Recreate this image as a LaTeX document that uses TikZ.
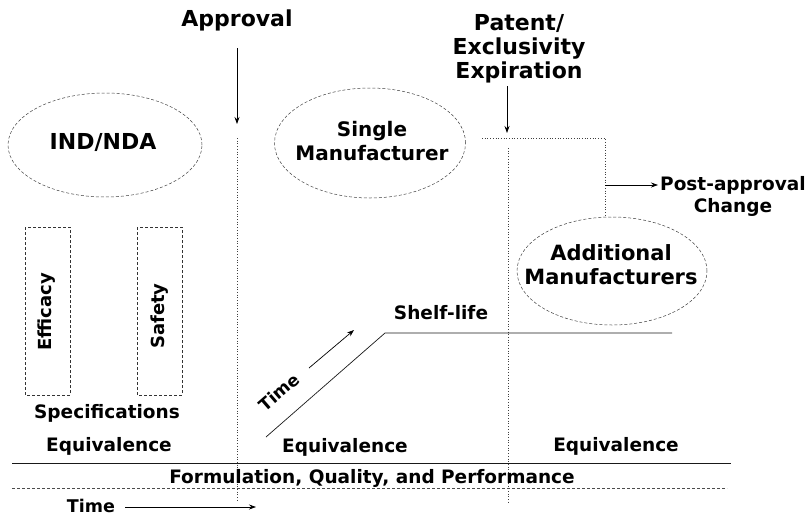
\documentclass[tikz,border=0pt]{standalone}
\usepackage{fontspec}
\setmainfont{DejaVu Sans}
\usetikzlibrary{shapes,arrows.meta}

\tikzset{
	title/.style={font=\fontsize{22}{24}\selectfont\bfseries, inner sep=0pt, align=center},
	lbl/.style={font=\fontsize{18.5}{22}\selectfont\bfseries, inner sep=0pt, align=center},
	phase/.style={ellipse, draw=black!75, densely dashed, line width=0.5pt, inner sep=0pt},
	specbox/.style={draw=black!80, densely dashed, line width=0.5pt},
	divider/.style={black!75, dotted, line width=0.7pt},
	baseline/.style={black!90, line width=0.7pt},
	arr/.style={-{Stealth[length=7pt,width=5pt]}, line width=0.7pt},
}

\begin{document}
\begin{tikzpicture}[x=1pt,y=-1pt]
	\useasboundingbox (0,0) rectangle (808,517);

		\node[title] (approval) at (237,20) {Approval};
		\node[title] (patent) at (519,49) {Patent/\\Exclusivity\\Expiration};

		\coordinate (approvaltop) at (237,48);
		\coordinate (approvaltip) at (237,124);
		\draw[arr] (approvaltop) -- (approvaltip);

		\coordinate (patenttop) at (507,86);
		\coordinate (patenttip) at (507,133);
		\draw[arr] (patenttop) -- (patenttip);

		% dotted time markers
		\coordinate (approvalA) at (237,138);
		\coordinate (approvalB) at (237,502);
		\draw[divider] (approvalA) -- (approvalB);

		\coordinate (expiryA) at (508,148);
		\coordinate (expiryB) at (508,502);
		\draw[divider] (expiryA) -- (expiryB);

		\coordinate (expiryL) at (482,138);
		\coordinate (expiryR) at (605,138);
		\coordinate (changeB) at (605,217);
		\draw[divider] (expiryL) -- (expiryR) -- (changeB);

		\coordinate (changeA) at (605,185);
		\coordinate (changetip) at (658,185);
		\draw[arr] (changeA) -- (changetip);
		\node[lbl, anchor=west, align=left] (postapp) at (660,185) {Post-approval};
		\node[lbl] (change) at (733,207) {Change};

		% phases
		\node[phase, minimum width=194pt, minimum height=104pt] (indnda) at (105,145) {};
		\node[title] (indndatxt) at (103,142) {IND/NDA};

		\node[phase, minimum width=191pt, minimum height=110pt] (single) at (370,143) {};
		\node[lbl, font=\fontsize{20}{24}\selectfont\bfseries] (singletxt) at (372,141) {Single\\Manufacturer};

		\node[phase, minimum width=190pt, minimum height=108pt] (additional) at (612,271) {};
		\node[lbl, font=\fontsize{21}{24}\selectfont\bfseries] (additionaltxt) at (611,265) {Additional\\Manufacturers};

		% specification boxes
		\draw[specbox] (25,227) rectangle (70,395);
		\node[lbl, font=\fontsize{18}{20}\selectfont\bfseries, rotate=90] (efficacy) at (47,312) {Efficacy};
		\draw[specbox] (137,227) rectangle (182,395);
		\node[lbl, font=\fontsize{18}{20}\selectfont\bfseries, rotate=90] (safety) at (160,316) {Safety};
		\node[lbl] (specs) at (107,413) {Specifications};

		% shelf-life
		\coordinate (shelfA) at (266,437);
		\coordinate (shelfB) at (385,333);
		\coordinate (shelfC) at (672,333);
		\draw[baseline] (shelfA) -- (shelfB) -- (shelfC);
		\node[lbl] (shelf) at (441,313) {Shelf-life};

		\node[lbl, font=\fontsize{17}{20}\selectfont\bfseries, rotate=41] (timediag) at (279,392) {Time};
		\coordinate (timeA) at (309,368);
		\coordinate (timeB) at (354,330);
		\draw[arr] (timeA) -- (timeB);

		\node[lbl] (equivL) at (109,446) {Equivalence};
		\node[lbl] (equivM) at (345,447) {Equivalence};
		\node[lbl] (equivR) at (616,446) {Equivalence};

		% formulation band
		\coordinate (bandA) at (12,463);
		\coordinate (bandB) at (731,463);
		\coordinate (bandC) at (12,488);
		\coordinate (bandD) at (727,488);
		\draw[baseline] (bandA) -- (bandB);
		\draw[baseline, densely dashed, black!70] (bandC) -- (bandD);
		\node[lbl] (fqp) at (372,478) {Formulation, Quality, and Performance};

		\node[lbl, font=\fontsize{17.5}{20}\selectfont\bfseries] (time) at (91,506) {Time};
		\coordinate (timeC) at (125,507);
		\coordinate (timeD) at (256,507);
		\draw[arr] (timeC) -- (timeD);
\end{tikzpicture}
\end{document}
